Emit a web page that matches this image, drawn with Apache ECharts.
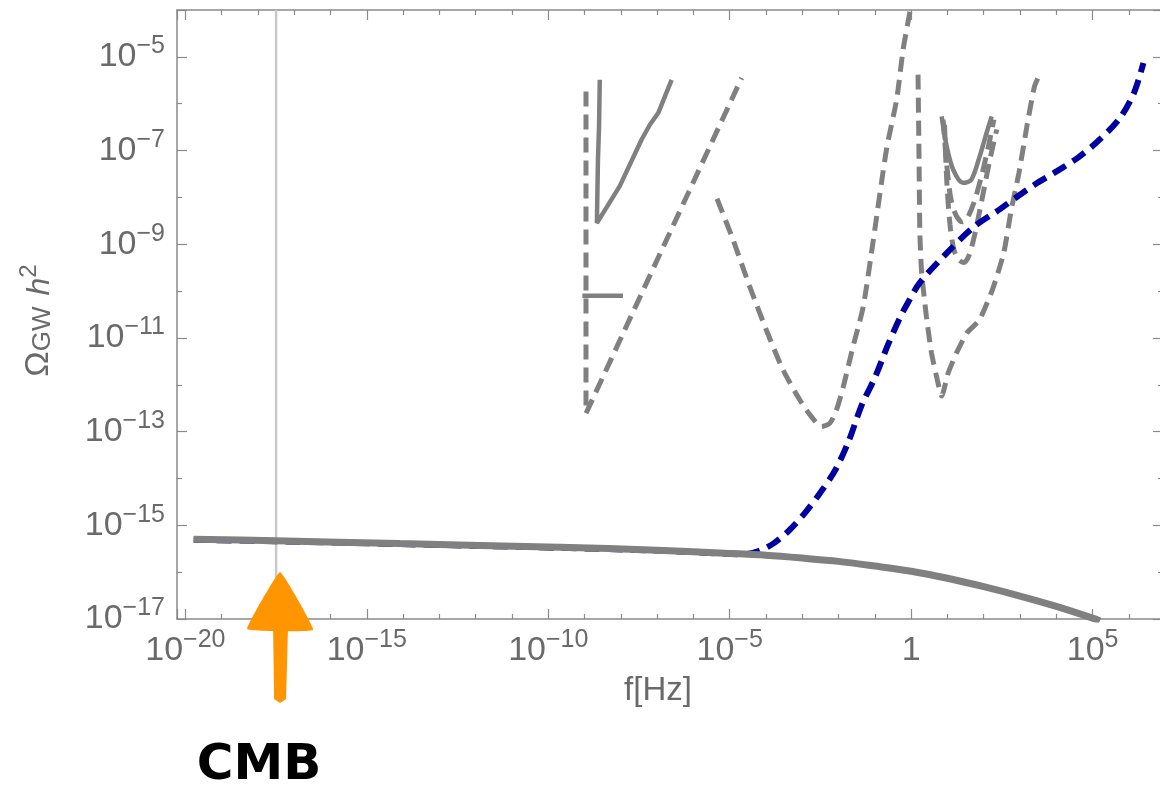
<!DOCTYPE html>
<html>
<head>
<meta charset="utf-8">
<script src="https://cdn.jsdelivr.net/npm/echarts@6/dist/echarts.min.js"></script>
<style>
html, body { margin: 0; padding: 0; background: #ffffff; }
#chart { width: 1160px; height: 786px; }
</style>
</head>
<body>
<div id="chart"></div>
<script>
// All points are [log10(f / Hz), log10(Omega_GW h^2)].

// Axis ranges (decades)
const xRange = [-20.23, 6.94];
const yRange = [-17, -4];

// Standard inflationary spectrum (grey, solid)
const spectrumStandard = [
  [-19.77, -15.30], [-17.5, -15.33], [-14.09, -15.39], [-9.68, -15.47],
  [-7.0, -15.53], [-5.0, -15.60], [-4.0, -15.64], [-3.0, -15.70],
  [-2.0, -15.77], [-1.0, -15.87], [0.0, -15.98], [1.0, -16.13],
  [2.0, -16.31], [3.0, -16.51], [4.0, -16.73], [5.0, -16.98], [5.2, -17.04]
];

// Enhanced spectrum (blue, dashed)
const spectrumEnhanced = [
  [-19.77, -15.31], [-17.5, -15.34], [-14.09, -15.40], [-9.68, -15.48],
  [-7.0, -15.54], [-5.0, -15.61], [-4.6, -15.62], [-4.2, -15.55],
  [-3.78, -15.38], [-3.35, -15.10], [-2.93, -14.74], [-2.51, -14.31],
  [-2.09, -13.82], [-1.72, -13.20], [-1.36, -12.43], [-1.0, -11.85],
  [-0.64, -11.15], [-0.31, -10.57], [-0.09, -10.25], [0.24, -9.82],
  [0.98, -9.19], [1.71, -8.64], [2.45, -8.25], [2.97, -7.96],
  [3.46, -7.70], [4.02, -7.44], [4.60, -7.15], [5.09, -6.84],
  [5.72, -6.34], [6.14, -5.77], [6.40, -5.13]
];

// Pulsar timing arrays
const ptaCurrent = [
  [-8.58, -5.49], [-8.60, -6.48], [-8.63, -7.19], [-8.66, -8.55],
  [-8.63, -8.58], [-8.03, -7.76], [-7.43, -6.77], [-7.20, -6.45],
  [-6.97, -6.20], [-6.84, -5.95], [-6.60, -5.49]
];
const ptaBar = [[-9.06, -10.10], [-7.94, -10.10]];
const ptaFuture = [
  [-8.96, -5.74], [-8.96, -12.61], [-4.67, -5.45]
];

// LISA
const lisaCurve = [
  [-5.35, -8.03], [-4.91, -8.90], [-4.45, -9.90], [-3.99, -10.83],
  [-3.53, -11.68], [-3.07, -12.32], [-2.75, -12.68], [-2.47, -12.89],
  [-2.24, -12.82], [-2.06, -12.54], [-1.87, -12.04], [-1.60, -11.18],
  [-1.32, -10.33], [-1.05, -8.95], [-0.68, -6.98], [-0.40, -5.91],
  [-0.22, -4.84], [-0.04, -4.06], [0.01, -3.78]
];

// Einstein Telescope
const etCurve = [
  [0.19, -5.38], [0.22, -7.34], [0.24, -8.76], [0.29, -9.61],
  [0.42, -10.54], [0.56, -11.32], [0.74, -11.96], [0.84, -12.24],
  [1.02, -11.75], [1.25, -11.32], [1.53, -10.90], [1.76, -10.72],
  [1.89, -10.61], [2.24, -9.97], [2.55, -9.19], [2.76, -8.26],
  [2.97, -7.48], [3.19, -6.48], [3.40, -5.63], [3.56, -5.34]
];

// LIGO (current run, solid) and design sensitivities (dashed)
const ligoCurrent = [
  [0.84, -6.27], [0.98, -6.91], [1.16, -7.41], [1.43, -7.69],
  [1.66, -7.62], [1.89, -7.12], [2.08, -6.62], [2.22, -6.27]
];
const ligoDesignA = [
  [0.88, -6.34], [0.98, -7.30], [1.09, -8.01], [1.23, -8.37],
  [1.40, -8.52], [1.54, -8.45], [1.73, -8.11], [1.95, -7.51],
  [2.14, -6.87], [2.28, -6.34]
];
const ligoDesignB = [
  [0.92, -6.45], [0.98, -7.62], [1.07, -8.58], [1.18, -9.12],
  [1.31, -9.33], [1.45, -9.39], [1.59, -9.25], [1.75, -8.80],
  [1.95, -8.05], [2.17, -7.19], [2.36, -6.55]
];

// CMB frequency marker
const cmbFrequency = -17.5;

// Detector names and their positions
const detectorNames = ['PTA', 'LISA', 'LIGO', 'ET'];
const detectorLabelPos = [[-11, -7], [-3, -7], [3, -5], [3, -12]];

const GREY = '#808080';
const BLUE = '#0000a0';
const FRAME = '#8a8a8a';
const TEXT = '#6a6a6a';
const FONT = '"Liberation Sans", Arial, Helvetica, sans-serif';

function powerLabel(v, step, offset) {
  const n = Math.round(v);
  if (Math.abs(v - n) > 1e-6) return '';
  if (((n - offset) % step + step) % step !== 0) return '';
  if (n === 0) return '{one|1}';
  const exp = n < 0 ? '\u2212' + (-n) : String(n);
  return '{b|10}{s|' + exp + '}';
}

const labelRich = {
  b: { fontSize: 34, lineHeight: 34, color: TEXT, fontFamily: FONT, verticalAlign: 'bottom' },
  one: { fontSize: 34, lineHeight: 34, color: TEXT, fontFamily: FONT, verticalAlign: 'bottom', padding: [6, 0, 0, 0] },
  s: { fontSize: 25, lineHeight: 25, color: TEXT, fontFamily: FONT, verticalAlign: 'bottom', padding: [0, 0, 15, 0] }
};

function frameAxis(extra) {
  return Object.assign({
    type: 'value',
    axisLine: { show: true, onZero: false, lineStyle: { color: FRAME, width: 1.5 } },
    axisTick: { show: true, inside: true, length: 10, lineStyle: { color: FRAME, width: 1.2 } },
    minorTick: { show: true, length: 5, lineStyle: { color: FRAME, width: 1.2 } },
    splitLine: { show: false },
    minorSplitLine: { show: false }
  }, extra);
}

function curve(name, data, opts) {
  return Object.assign({
    name: name,
    type: 'line',
    data: data,
    showSymbol: false,
    symbol: 'none',
    silent: true,
    clip: true,
    xAxisIndex: 0,
    yAxisIndex: 0
  }, opts);
}

const dashedGrey = { color: GREY, width: 5, type: [15, 8], cap: 'butt' };
const solidGrey = { color: GREY, width: 4.5 };

const chart = echarts.init(document.getElementById('chart'), null, { renderer: 'canvas' });

const option = {
  backgroundColor: '#ffffff',
  animation: false,
  grid: { left: 177, top: 10, width: 986, height: 609, containLabel: false, outerBoundsMode: 'none' },
  xAxis: [
    frameAxis({
      position: 'bottom', min: xRange[0], max: xRange[1], minInterval: 5, maxInterval: 5,
      minorTick: { show: true, splitNumber: 5, length: 5, lineStyle: { color: FRAME, width: 1.2 } },
      axisLabel: { show: true, margin: 15, formatter: v => powerLabel(v, 5, 0), rich: labelRich },
      name: 'f[Hz]', nameLocation: 'middle', nameGap: 55,
      nameTextStyle: { fontSize: 33, color: TEXT, fontFamily: FONT, padding: [0, 24, 0, 0] }
    }),
    frameAxis({
      position: 'top', min: xRange[0], max: xRange[1], minInterval: 5, maxInterval: 5,
      minorTick: { show: true, splitNumber: 5, length: 5, lineStyle: { color: FRAME, width: 1.2 } },
      axisLabel: { show: false }
    })
  ],
  yAxis: [
    frameAxis({
      position: 'left', min: yRange[0], max: yRange[1], interval: 2,
      minorTick: { show: true, splitNumber: 2, length: 5, lineStyle: { color: FRAME, width: 1.2 } },
      axisLabel: { show: true, margin: 12, formatter: v => (v <= -5 ? powerLabel(v, 2, 1) : ''), rich: labelRich },
      name: '{o|\u03A9}{sub|GW}{sp| }{h|h}{sup|2}', nameLocation: 'middle', nameGap: 121, nameRotate: 90,
      nameTextStyle: {
        color: TEXT, fontFamily: FONT, padding: [0, 12, 0, 0],
        rich: {
          o: { fontSize: 34, lineHeight: 38, color: TEXT, fontFamily: FONT, verticalAlign: 'bottom' },
          sub: { fontSize: 26, lineHeight: 30, color: TEXT, fontFamily: FONT, verticalAlign: 'bottom' },
          sp: { fontSize: 40, lineHeight: 38, color: TEXT, fontFamily: FONT, verticalAlign: 'bottom' },
          h: { fontSize: 32, lineHeight: 38, color: TEXT, fontFamily: FONT, fontStyle: 'italic', verticalAlign: 'bottom' },
          sup: { fontSize: 24, lineHeight: 26, color: TEXT, fontFamily: FONT, verticalAlign: 'bottom', padding: [0, 0, 15, 0] }
        }
      }
    }),
    frameAxis({
      position: 'right', min: yRange[0], max: yRange[1], interval: 2,
      minorTick: { show: true, splitNumber: 2, length: 5, lineStyle: { color: FRAME, width: 1.2 } },
      axisLabel: { show: false }
    })
  ],
  series: [
    curve('CMB', [[cmbFrequency, yRange[0]], [cmbFrequency, yRange[1]]], {
      z: 1, lineStyle: { color: '#c8c8c8', width: 2.5 }
    }),
    curve('Enhanced', spectrumEnhanced, {
      z: 3, smooth: 0.3, lineStyle: { color: BLUE, width: 6, type: [15, 8], cap: 'butt' }
    }),
    curve('Standard', spectrumStandard, {
      z: 4, smooth: 0.3, lineStyle: { color: GREY, width: 7 }
    }),
    curve('PTA current', ptaCurrent, { z: 2, lineStyle: solidGrey }),
    curve('PTA bar', ptaBar, { z: 2, lineStyle: solidGrey }),
    curve('PTA future', ptaFuture, { z: 2, lineStyle: dashedGrey }),
    curve('LISA', lisaCurve, { z: 2, smooth: 0.25, lineStyle: dashedGrey }),
    curve('ET', etCurve, { z: 2, smooth: 0.2, lineStyle: dashedGrey }),
    curve('LIGO current', ligoCurrent, { z: 2, smooth: 0.3, lineStyle: solidGrey }),
    curve('LIGO design A', ligoDesignA, { z: 2, smooth: 0.3, lineStyle: dashedGrey }),
    curve('LIGO design B', ligoDesignB, { z: 2, smooth: 0.3, lineStyle: dashedGrey }),
    {
      name: 'Detectors',
      type: 'scatter',
      silent: true,
      symbolSize: 1,
      itemStyle: { opacity: 0 },
      z: 5,
      data: detectorNames.map((n, i) => ({ name: n, value: detectorLabelPos[i] })),
      label: {
        show: true, position: 'inside', formatter: '{b}',
        fontSize: 38, color: GREY, fontFamily: FONT
      }
    }
  ]
};

chart.setOption(option);

// Orange arrow pointing at the CMB frequency, with its caption below the axis
const base = chart.convertToPixel({ gridIndex: 0 }, [cmbFrequency, yRange[0]]);
const ax = base[0] + 4;
const ay = base[1];
chart.setOption({
  graphic: [
    {
      type: 'polygon', z: 100, silent: true,
      shape: { points: [[ax, ay - 47], [ax - 33, ay + 10], [ax + 33, ay + 11]], smooth: 0.08 },
      style: { fill: '#ff9500' }
    },
    {
      type: 'polygon', z: 100, silent: true,
      shape: { points: [[ax - 7, ay + 6], [ax + 8, ay + 6], [ax + 6, ay + 80], [ax, ay + 84], [ax - 6, ay + 80]] },
      style: { fill: '#ff9500' }
    },
    {
      type: 'text', z: 100, silent: true,
      x: ax - 21, y: ay + 147,
      style: {
        text: 'CMB', fill: '#000000', font: 'bold 50px "DejaVu Sans", ' + FONT,
        align: 'center', verticalAlign: 'middle'
      }
    }
  ]
});
</script>
</body>
</html>
